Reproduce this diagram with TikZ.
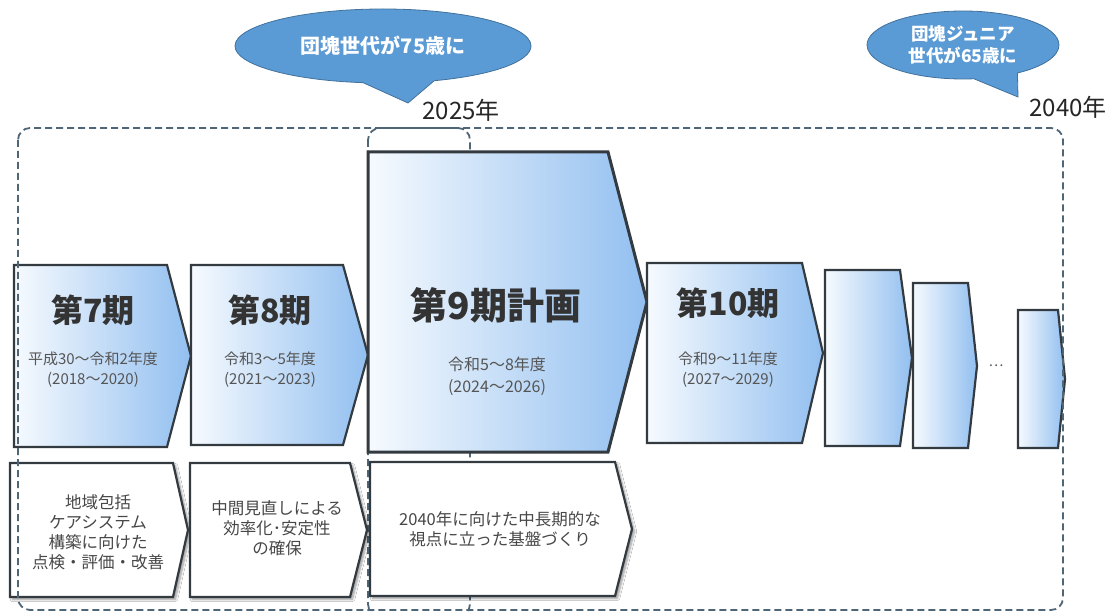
\documentclass[tikz,border=0pt]{standalone}
\usepackage{fontspec}
\setmainfont{Noto Sans CJK JP}
\usetikzlibrary{shapes.callouts,shadows.blur}
\definecolor{edge}{HTML}{333A40}
\definecolor{bl}{HTML}{5B9BD5}
\definecolor{blo}{HTML}{41719C}
\definecolor{gl}{HTML}{F6FAFE}
\definecolor{gr}{HTML}{92BFF0}
\definecolor{dsh}{HTML}{4E6676}
\definecolor{tx}{HTML}{333333}
\definecolor{sub}{HTML}{555555}
\begin{document}
\begin{tikzpicture}[x=1pt,y=-1pt,
 chev/.style={draw=edge, line width=2.2pt, line join=miter, left color=gl, right color=gr},
 note/.style={draw=edge, line width=2.2pt, fill=white, blur shadow={shadow xshift=2.5pt, shadow yshift=-2.5pt, shadow blur steps=6, shadow opacity=40}},
 span/.style={draw=dsh, line width=1.8pt, dash pattern=on 7pt off 4pt, rounded corners=12pt},
 ttl/.style={font=\fontsize{32}{36}\selectfont\bfseries, text=tx},
 yrs/.style={font=\fontsize{15}{20}\selectfont, text=sub, align=center},
 nt/.style={font=\fontsize{16.5}{20}\selectfont, text=tx!90, align=center},
 bub/.style={ellipse callout, callout pointer arc=28, fill=bl, draw=blo, line width=0.8pt, text=white, font=\fontsize{20}{23}\selectfont\bfseries, align=center, inner sep=0pt},
 yr/.style={font=\fontsize{24}{27}\selectfont, text=black!85}
]
\useasboundingbox (0,0) rectangle (1111,612);
\fill[white] (0,0) rectangle (1111,612);

% 2025 window (behind boxes)
\path[span] (368,128) rectangle (470,616);

% row 1
\path[chev] (14,265) -- (167,265) -- (191,356) -- (167,447) -- (14,447) -- cycle;
\path[chev] (191,265) -- (343,265) -- (368,355) -- (343,445) -- (191,445) -- cycle;
\path[chev, line width=3pt] (368,152) -- (608,152) -- (647,302) -- (608,452) -- (368,452) -- cycle;
\path[chev] (647,263) -- (802,263) -- (823,353) -- (802,443) -- (647,443) -- cycle;
\path[chev] (825,270) -- (900,270) -- (912,358) -- (900,446) -- (825,446) -- cycle;
\path[chev] (913,283) -- (968,283) -- (977,366) -- (968,448) -- (913,448) -- cycle;
\path[chev] (1018,310) -- (1058,310) -- (1065,379) -- (1058,448) -- (1018,448) -- cycle;

% row 2
\path[note] (10,463) -- (173,463) -- (188,530) -- (173,597) -- (10,597) -- cycle;
\path[note] (190,463) -- (350,463) -- (367,530) -- (350,597) -- (190,597) -- cycle;
\path[note] (370,462) -- (615,462) -- (632,529) -- (615,596) -- (370,596) -- cycle;

% overall span to 2040
\path[span] (18,128) rectangle (1063,610);

% texts row 1
\node[ttl] (t7) at (93,310) {第7期};
\node[yrs] (s7) at (93,370) {平成30～令和2年度\\(2018～2020)};
\node[ttl] (t8) at (270,310) {第8期};
\node[yrs] (s8) at (270,370) {令和3～5年度\\(2021～2023)};
\node[ttl, font=\fontsize{37}{40}\selectfont\bfseries] (t9) at (496,305) {第9期計画};
\node[yrs, font=\fontsize{16}{22}\selectfont] (s9) at (497,376) {令和5～8年度\\(2024～2026)};
\node[ttl] (t10) at (728,303) {第10期};
\node[yrs] (s10) at (728,370) {令和9～11年度\\(2027～2029)};
\node[text=sub, font=\fontsize{14}{16}\selectfont] (dots) at (996,366) {…};

% texts row 2
\node[nt] (nA) at (98,532) {地域包括\\ケアシステム\\構築に向けた\\点検・評価・改善};
\node[nt] (nB) at (277,528) {中間見直しによる\\効率化･安定性\\の確保};
\node[nt] (nC) at (500,529) {2040年に向けた中長期的な\\視点に立った基盤づくり};

% callouts
\node[bub, minimum width=296pt, minimum height=74pt, callout absolute pointer={(408,103)}] (b1) at (383,46) {団塊世代が75歳に};
\node[yr] (y1) at (461,110) {2025年};
\node[bub, minimum width=192pt, minimum height=68pt, font=\fontsize{17.5}{22}\selectfont\bfseries, callout absolute pointer={(1018,97)}] (b2) at (963,45) {団塊ジュニア\\世代が65歳に};
\node[yr] (y2) at (1068,107) {2040年};
\end{tikzpicture}
\end{document}
